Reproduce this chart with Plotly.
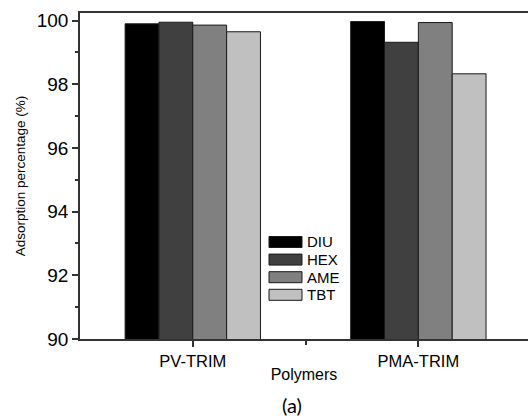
import plotly.graph_objects as go

categories = ["PV-TRIM", "PMA-TRIM"]
series_names = ["DIU", "HEX", "AME", "TBT"]
series_values = {
    "DIU": [99.90, 99.97],
    "HEX": [99.95, 99.32],
    "AME": [99.86, 99.94],
    "TBT": [99.65, 98.33],
}
series_colors = {"DIU": "#000000", "HEX": "#404040", "AME": "#808080", "TBT": "#C0C0C0"}
y_ticks = [90, 92, 94, 96, 98, 100]

xpos = [i + 1 for i in range(len(categories))]
font_family = "Liberation Sans, Arial, sans-serif"

W, H = 528, 419
ML, MR, MT, MB = 80, 0, 13, 80
PW, PH = W - ML - MR, H - MT - MB


def px_to_paper(x, y):
    return (x - ML) / PW, (H - MB - y) / PH


fig = go.Figure()
for name in series_names:
    fig.add_trace(go.Bar(
        x=xpos, y=series_values[name], name=name,
        marker=dict(color=series_colors[name], line=dict(color="#1a1a1a", width=1)),
        showlegend=False,
    ))

# manual legend with wide swatches
for i, name in enumerate(series_names):
    top = 236.5 + i * 17.6
    x0, y1 = px_to_paper(269, top)
    x1, y0 = px_to_paper(302, top + 11)
    fig.add_shape(type="rect", xref="paper", yref="paper", x0=x0, x1=x1, y0=y0, y1=y1,
                  fillcolor=series_colors[name], line=dict(color="#1a1a1a", width=1))
    tx, ty = px_to_paper(305, top + 5.5)
    fig.add_annotation(xref="paper", yref="paper", x=tx, y=ty,
                       text=name, showarrow=False, xanchor="left", yanchor="middle",
                       font=dict(family=font_family, size=15, color="#000000"))

ax, ay = px_to_paper(292, 405)
fig.add_annotation(xref="paper", yref="paper", x=ax, y=ay,
                   text="(a)", showarrow=False, xanchor="center", yanchor="middle",
                   font=dict(family="Lato, Noto Sans, sans-serif", size=20, color="#000000"))

fig.update_layout(
    width=W, height=H,
    margin=dict(l=ML, r=MR, t=MT, b=MB, pad=0),
    paper_bgcolor="white", plot_bgcolor="white",
    barmode="group", bargap=0.4, bargroupgap=0,
    font=dict(family=font_family, color="#000000"),
)
fig.update_xaxes(
    range=[0.5, 2.486], automargin=False,
    tickvals=xpos, ticktext=categories,
    ticks="outside", ticklen=6, tickwidth=1.5, tickcolor="#333333",
    minor=dict(tickvals=[1.5], ticks="outside", ticklen=4, tickwidth=1.5, tickcolor="#333333"),
    showline=True, linecolor="#333333", linewidth=1.5, mirror=True,
    showgrid=False, zeroline=False,
    tickfont=dict(size=16.5),
    title=dict(text="Polymers", font=dict(size=16), standoff=0),
)
fig.update_yaxes(
    range=[90, 100.24], automargin=False,
    tickvals=y_ticks,
    ticks="outside", ticklen=6, tickwidth=1.5, tickcolor="#333333",
    minor=dict(dtick=1, tick0=90, ticks="outside", ticklen=3, tickwidth=1.5, tickcolor="#333333"),
    showline=True, linecolor="#333333", linewidth=1.5, mirror=False,
    showgrid=False, zeroline=False,
    tickfont=dict(size=19),
    title=dict(text="Adsorption percentage (%)", font=dict(size=13.5), standoff=8),
)

fig.write_html("out.html", config={"displayModeBar": False},
               post_script="document.body.style.margin='0';")
